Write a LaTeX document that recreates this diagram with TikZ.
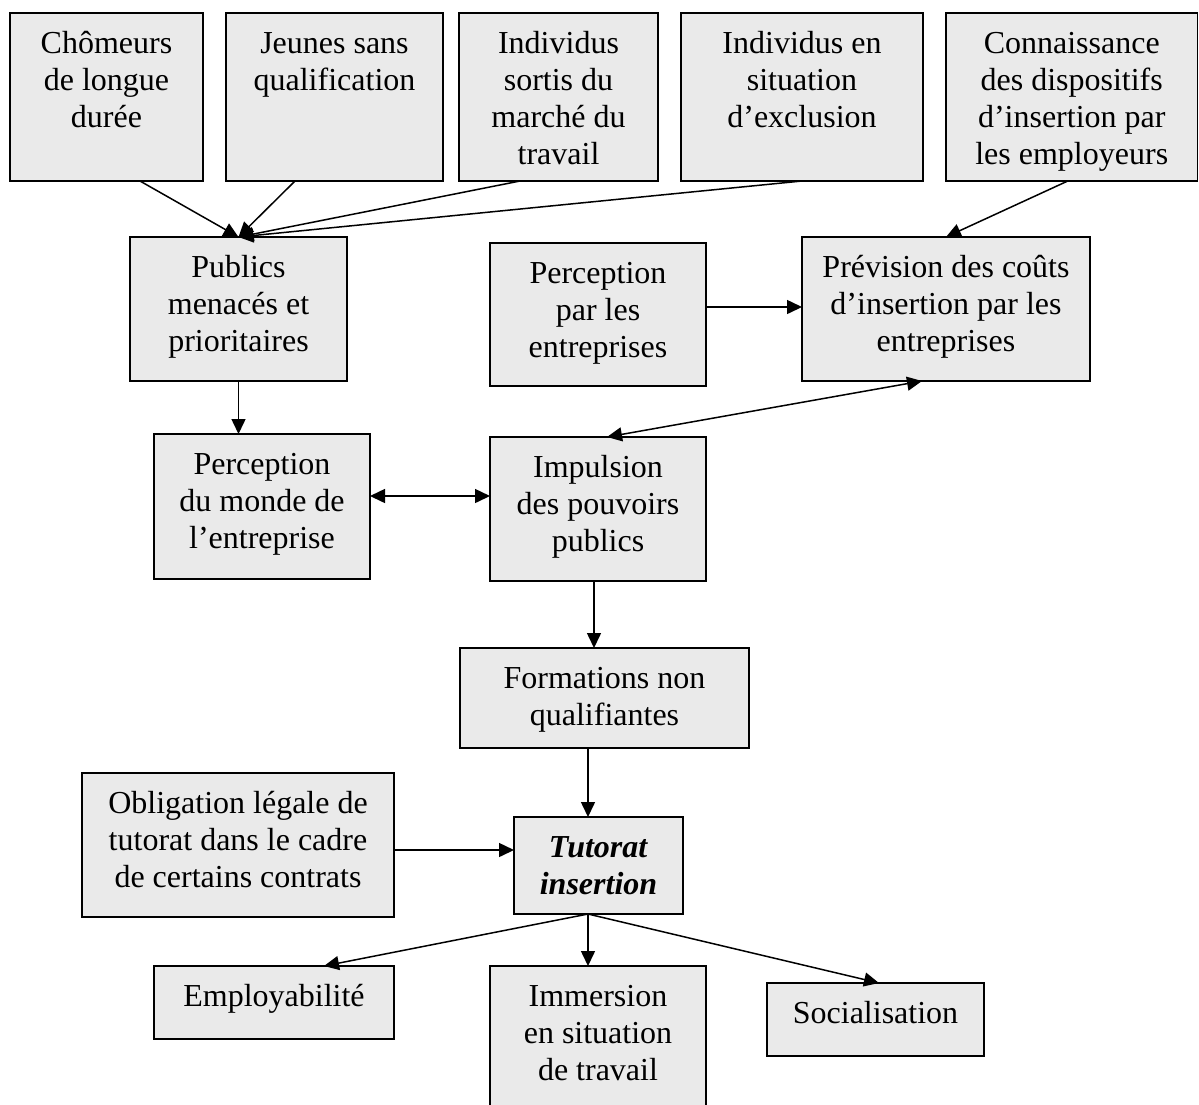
\documentclass[tikz,border=0pt]{standalone}
\usepackage{fontspec}
\setmainfont{Liberation Serif}
\usetikzlibrary{arrows.meta,calc}
\definecolor{boxfill}{RGB}{234,234,234}
\tikzset{
  bx/.style={draw=black, fill=boxfill, line width=1.5pt, rectangle, inner sep=0pt, outer sep=0pt},
  tx/.style={anchor=north, inner sep=0pt, align=center, font=\fontsize{32}{37}\selectfont},
  arr/.style={line width=1.5pt, -{Triangle[length=15pt,width=14pt]}},
  darr/.style={line width=1.5pt, {Triangle[length=15pt,width=14pt]}-{Triangle[length=15pt,width=14pt]}}
}
\newcommand{\mybox}[6]{%
  \node[bx, minimum width={(#4-#2)*1pt}, minimum height={(#5-#3)*1pt}, anchor=north west] (#1) at (#2,#3) {};
  \node[tx] (#1-t) at ([yshift=-14.1pt]#1.north) {\strut #6};
}
\begin{document}
\begin{tikzpicture}[x=1pt,y=-1pt]
\useasboundingbox (0,0) rectangle (1199,1104);
\mybox{cho}{10}{13}{203}{181}{Chômeurs\\de longue\\durée}
\mybox{jeu}{226}{13}{443}{181}{Jeunes sans\\qualification}
\mybox{ind}{459}{13}{658}{181}{Individus\\sortis du\\marché du\\travail}
\mybox{exc}{681}{13}{923}{181}{Individus en\\situation\\d’exclusion}
\mybox{con}{946}{13}{1197.5}{181}{Connaissance\\des dispositifs\\d’insertion par\\les employeurs}
\mybox{pub}{130}{237}{347}{381}{Publics\\menacés et\\prioritaires}
\mybox{ppe}{490}{243}{706}{386}{Perception\\par les\\entreprises}
\mybox{prev}{802}{237}{1090}{381}{Prévision des coûts\\d’insertion par les\\entreprises}
\mybox{pdm}{154}{434}{370}{579}{Perception\\du monde de\\l’entreprise}
\mybox{imp}{490}{437}{706}{581}{Impulsion\\des pouvoirs\\publics}
\mybox{form}{460}{648}{749}{748}{Formations non\\qualifiantes}
\mybox{obl}{82}{773}{394}{917}{Obligation légale de\\tutorat dans le cadre\\de certains contrats}
\mybox{tut}{514}{817}{683}{914}{\textbf{\textit{Tutorat}}\\\textbf{\textit{insertion}}}
\mybox{emp}{154}{966}{394}{1039}{Employabilité}
\mybox{imm}{490}{966}{706}{1112}{Immersion\\en situation\\de travail}
\mybox{soc}{767}{983}{984}{1056}{Socialisation}

% top arrows
\draw[arr] ([xshift=33.5pt]cho.south) -- (pub.north);
\draw[arr] ([xshift=-39.5pt]jeu.south) -- (pub.north);
\draw[arr] ([xshift=-38.5pt]ind.south) -- (pub.north);
\draw[arr] (exc.south) -- (pub.north);
\draw[arr] ([xshift=-4pt]con.south) -- (prev.north);
% middle
\coordinate (a1) at ([yshift=7.5pt]ppe.east);
\draw[arr] (a1) -- (a1 -| prev.west);
\draw[darr] ([xshift=9pt]imp.north) -- ([xshift=-24pt]prev.south);
\draw[arr] (pub.south) -- (pub.south |- pdm.north);
\coordinate (a2) at ([yshift=10.5pt]pdm.east);
\draw[darr] (a2) -- (a2 -| imp.west);
\coordinate (b1) at ([xshift=-4pt]imp.south);
\draw[arr] (b1) -- (b1 |- form.north);
\coordinate (b2) at ([xshift=-10.5pt]tut.north);
\draw[arr] (b2 |- form.south) -- (b2);
\coordinate (a3) at ([yshift=-5pt]obl.east);
\draw[arr] (a3) -- (a3 -| tut.west);
% bottom
\coordinate (b3) at ([xshift=-10.5pt]tut.south);
\draw[arr] (b3) -- ([xshift=50pt]emp.north);
\draw[arr] (b3) -- (b3 |- imm.north);
\draw[arr] (b3) -- ([xshift=3.5pt]soc.north);
\end{tikzpicture}
\end{document}
